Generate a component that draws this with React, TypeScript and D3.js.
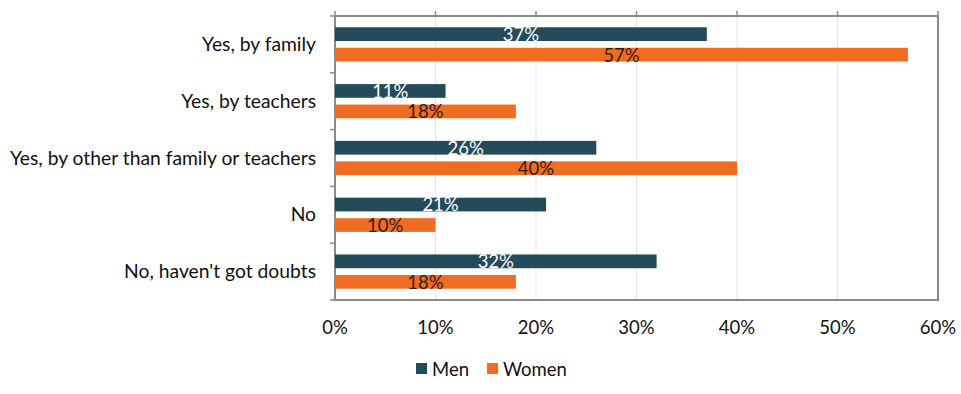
import React from "react";
import * as d3 from "d3";

const categories = [
  "Yes, by family",
  "Yes, by teachers",
  "Yes, by other than family or teachers",
  "No",
  "No, haven't got doubts",
];
const men = [37, 11, 26, 21, 32];
const women = [57, 18, 40, 10, 18];
const series = ["Men", "Women"];
const xTicks = [0, 10, 20, 30, 40, 50, 60];

const W = 961;
const H = 394;
const M = { left: 335, right: 938, top: 16, bottom: 300 };
const font = "Lato, 'Open Sans', sans-serif";
const colors = { Men: "#244B5A", Women: "#F06C23" };
const axisColor = "#8a8a8a";
const fs = 18.5;
const catFs = 19.3;

export default function App() {
  const x = d3.scaleLinear().domain([0, 60]).range([M.left, M.right]);
  const y = d3.scaleBand().domain(categories).range([M.top, M.bottom]);
  const inner = d3.scaleBand().domain(series).range([0, y.bandwidth()]).paddingInner(0.33).paddingOuter(0.55);
  const data = [men, women];
  return (
    <svg width={W} height={H} style={{ position: "absolute", left: 0, top: 0, background: "#fff" }}>
      {xTicks.map((t) => (
        <line key={"g" + t} x1={x(t)} x2={x(t)} y1={M.top} y2={M.bottom} stroke="#e3e3e3" strokeWidth={1} />
      ))}
      {xTicks.map((t) => (
        <line key={"tt" + t} x1={x(t)} x2={x(t)} y1={M.top - 5} y2={M.top} stroke={axisColor} strokeWidth={1.5} />
      ))}
      {categories.map((c, i) => (
        <line key={"lt" + i} x1={M.left - 5} x2={M.left} y1={y(c)!} y2={y(c)!} stroke={axisColor} strokeWidth={1.5} />
      ))}
      <line x1={M.left - 5} x2={M.left} y1={M.bottom} y2={M.bottom} stroke={axisColor} strokeWidth={1.5} />
      <rect x={M.left} y={M.top} width={M.right - M.left} height={M.bottom - M.top} fill="none" stroke={axisColor} strokeWidth={2} />
      {categories.map((c, i) =>
        series.map((s, j) => {
          const v = data[j][i];
          const by = y(c)! + inner(s)!;
          const bh = inner.bandwidth();
          return (
            <g key={c + s}>
              <rect x={x(0)} y={by} width={x(v) - x(0)} height={bh} fill={(colors as any)[s]} />
              <text
                x={(x(0) + x(v)) / 2}
                y={by + bh}
                textAnchor="middle"
                fontFamily={font}
                fontSize={fs}
                fill={s === "Men" ? "#ffffff" : "#3a1c0c"}
              >
                {v}%
              </text>
            </g>
          );
        })
      )}
      {categories.map((c) => (
        <text key={"cl" + c} x={M.left - 19} y={y(c)! + y.bandwidth() / 2 + 6.5} textAnchor="end" fontFamily={font} fontSize={catFs} fill="#111">
          {c}
        </text>
      ))}
      {xTicks.map((t) => (
        <text key={"xl" + t} x={x(t)} y={334} textAnchor="middle" fontFamily={font} fontSize={fs} fill="#111">
          {t}%
        </text>
      ))}
      <g>
        <rect x={416} y={363} width={11} height={11} fill={colors.Men} />
        <text x={432} y={376} fontFamily={font} fontSize={fs} fill="#111">Men</text>
        <rect x={487} y={363} width={11} height={11} fill={colors.Women} />
        <text x={503} y={376} fontFamily={font} fontSize={fs} fill="#111">Women</text>
      </g>
    </svg>
  );
}
